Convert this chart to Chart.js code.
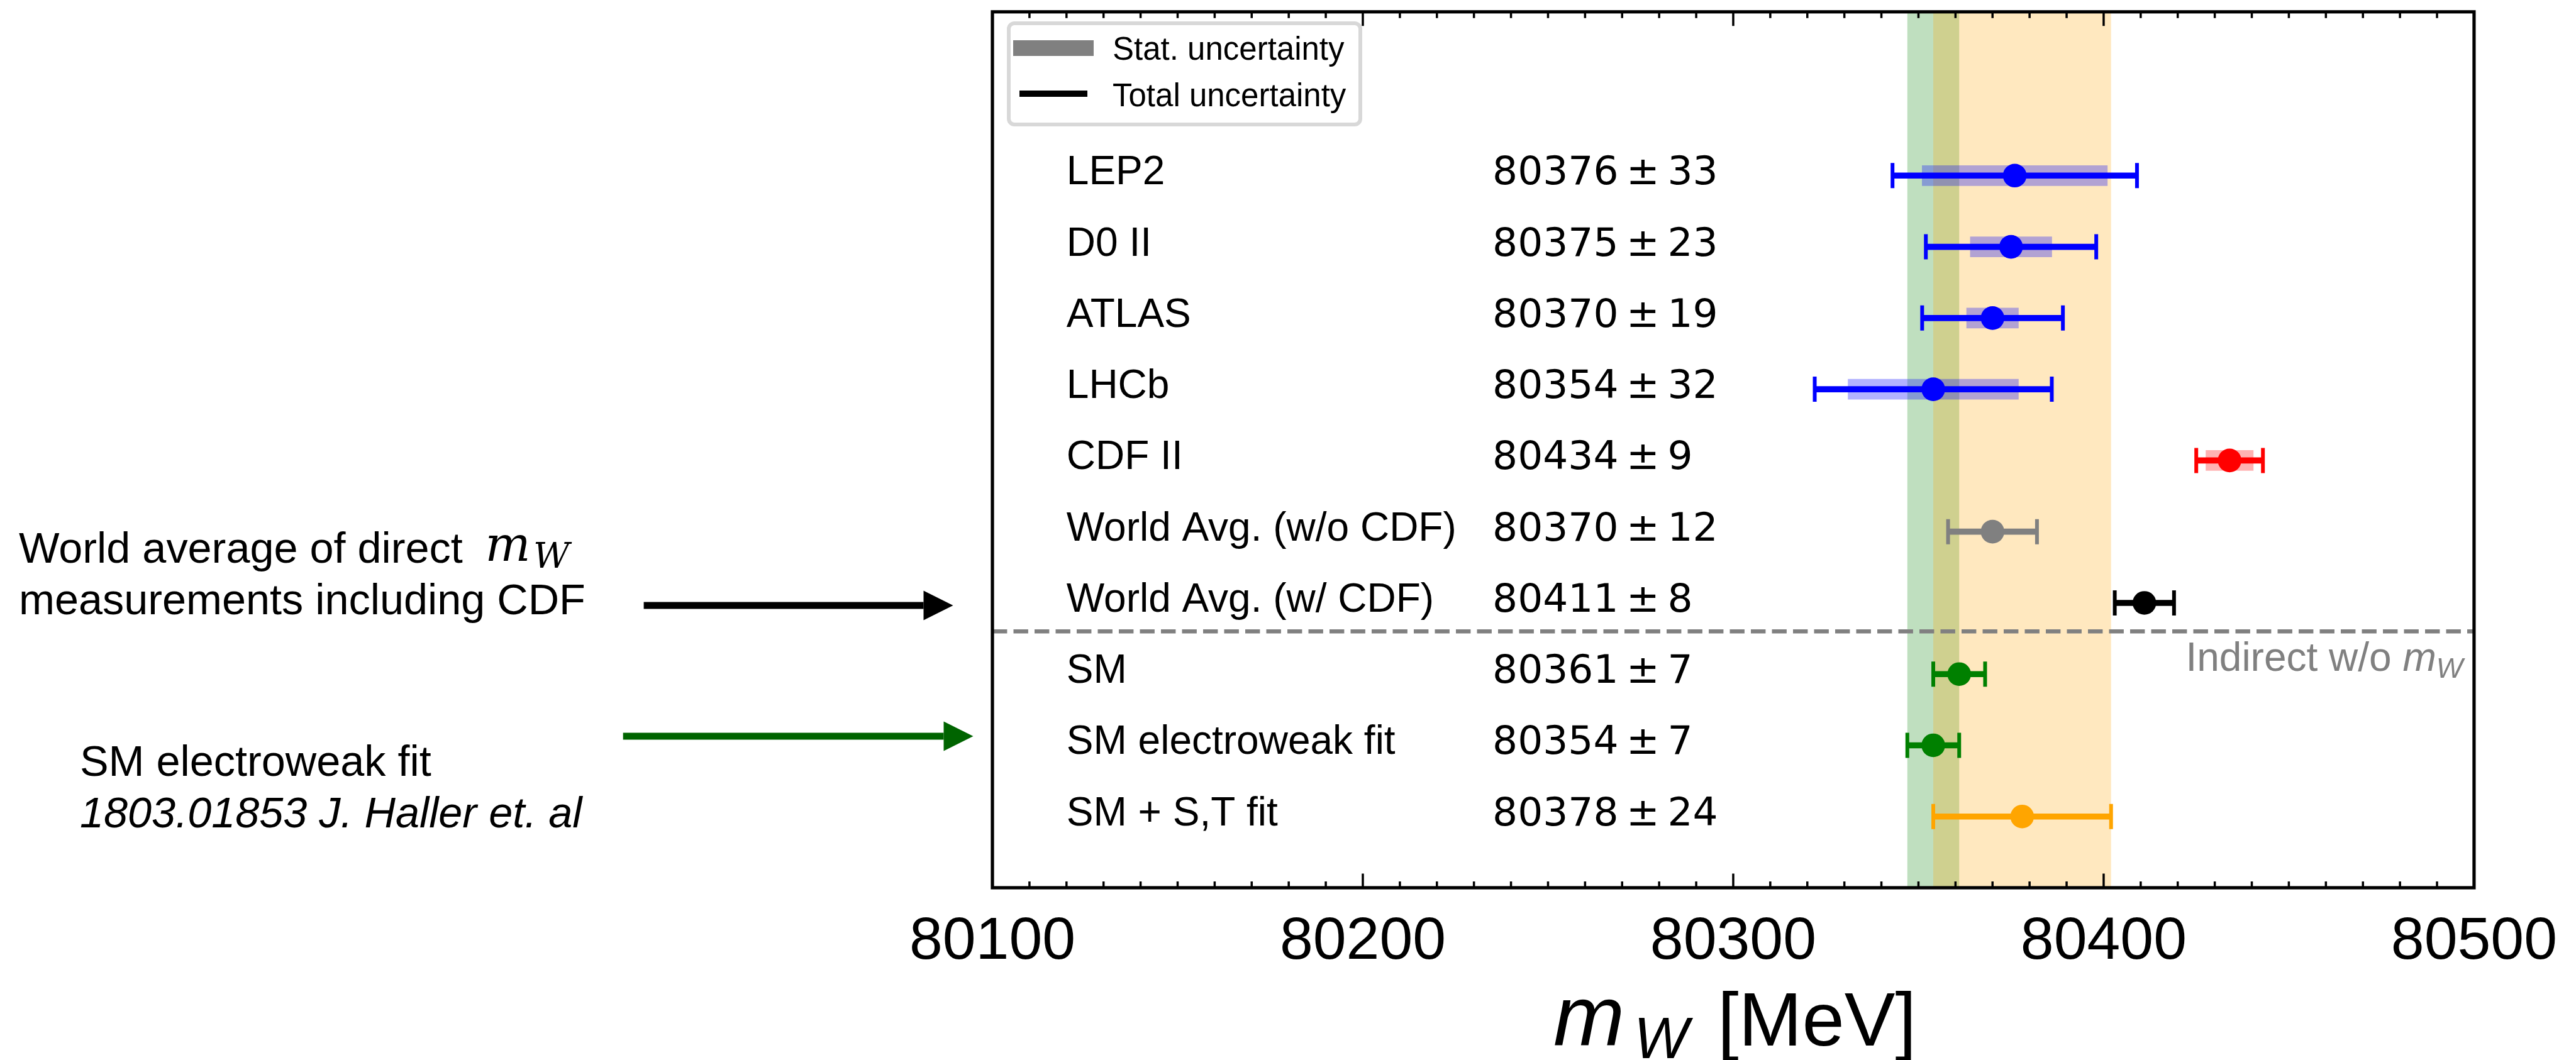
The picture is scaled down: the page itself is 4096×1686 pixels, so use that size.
<!doctype html>
<html lang="en">
<head>
<meta charset="utf-8">
<title>W boson mass summary</title>
<style>
  html,body{margin:0;padding:0;background:#fff}
  #wrap{width:4096px;height:1686px;position:relative}
  canvas{display:block}
</style>
</head>
<body>
<div id="wrap"><canvas id="mw" width="4096" height="1686"></canvas></div>

<script src="https://cdn.jsdelivr.net/npm/chart.js"></script>
<script>
// ---- data (top row first) ----
const rows     = ['LEP2','D0 II','ATLAS','LHCb','CDF II','World Avg. (w/o CDF)','World Avg. (w/ CDF)','SM','SM electroweak fit','SM + S,T fit'];
const rowY     = [10,9,8,7,6,5,4,3,2,1];
const mW       = [80376,80375,80370,80354,80434,80370,80411,80361,80354,80378];
const totErr   = [33,23,19,32,9,12,8,7,7,24];
const statErr  = [25,11,7,23,6.4,null,null,null,null,null];
const rowColor = ['#0000ff','#0000ff','#0000ff','#0000ff','#ff0000','#808080','#000000','#008000','#008000','#ffa500'];

// vertical bands: SM electroweak fit, SM + S,T fit
const bandMid   = [80354,80378];
const bandErr   = [7,24];
const bandColor = ['rgba(0,128,0,0.25)','rgba(255,165,0,0.25)'];

const majorTicks = [80100,80200,80300,80400,80500];
const X_MIN=80100, X_MAX=80500, MINOR=10;
const Y_MAX=12.3, SPLIT_Y=3.6;
const LABEL_X=80120, VALUE_X=80235, INDIRECT_X=80497;

// ---- sizes (reference * 0.866) ----
const SANS='"Liberation Sans"';
const ERR_LW=9.6, CAP_H=40, CAP_W=6, MARK_R=18.8, STAT_H=32;
const FRAME_LW=5.2, TICK_LW=3.5, MAJ_LEN=22.5, MIN_LEN=10;
const AXIS_H=150;

function fade(hex,a){
  const n=parseInt(hex.slice(1),16);
  return `rgba(${n>>16},${(n>>8)&255},${n&255},${a})`;
}

const statIdx = statErr.map((s,i)=>s==null?-1:i).filter(i=>i>=0);

function arrow(ctx,x0,x1,y,color){
  const head=47, half=23.4, lw=11;
  ctx.fillStyle=color;
  ctx.fillRect(x0,y-lw/2,x1-head-x0,lw);
  ctx.beginPath();ctx.moveTo(x1-head,y-half);ctx.lineTo(x1,y);ctx.lineTo(x1-head,y+half);ctx.closePath();ctx.fill();
}

function roundRect(ctx,x,y,w,h,r){
  ctx.beginPath();
  ctx.moveTo(x+r,y);ctx.lineTo(x+w-r,y);ctx.arcTo(x+w,y,x+w,y+r,r);
  ctx.lineTo(x+w,y+h-r);ctx.arcTo(x+w,y+h,x+w-r,y+h,r);
  ctx.lineTo(x+r,y+h);ctx.arcTo(x,y+h,x,y+h-r,r);
  ctx.lineTo(x,y+r);ctx.arcTo(x,y,x+r,y,r);ctx.closePath();
}

const deco = {
  id:'deco',
  beforeDatasetsDraw(c){
    const {ctx,chartArea:a,scales:{x,y}}=c;
    ctx.save();
    bandMid.forEach((m,i)=>{
      const x0=x.getPixelForValue(m-bandErr[i]), x1=x.getPixelForValue(m+bandErr[i]);
      ctx.fillStyle=bandColor[i];ctx.fillRect(x0,a.top,x1-x0,a.bottom-a.top);
    });
    const ys=y.getPixelForValue(SPLIT_Y);
    ctx.strokeStyle='#808080';ctx.lineWidth=6.3;ctx.setLineDash([23.4,10.1]);
    ctx.beginPath();ctx.moveTo(a.left,ys);ctx.lineTo(a.right,ys);ctx.stroke();
    ctx.restore();
  },
  afterDatasetDraw(c,args){
    if(args.index!==1)return;
    // total uncertainty
    const {ctx,scales:{x,y}}=c;
    ctx.save();
    rows.forEach((_,i)=>{
      const py=y.getPixelForValue(rowY[i]);
      const x0=x.getPixelForValue(mW[i]-totErr[i]), x1=x.getPixelForValue(mW[i]+totErr[i]);
      ctx.strokeStyle=rowColor[i];
      ctx.lineWidth=ERR_LW;ctx.beginPath();ctx.moveTo(x0,py);ctx.lineTo(x1,py);ctx.stroke();
      ctx.lineWidth=CAP_W;ctx.beginPath();
      ctx.moveTo(x0,py-CAP_H/2);ctx.lineTo(x0,py+CAP_H/2);
      ctx.moveTo(x1,py-CAP_H/2);ctx.lineTo(x1,py+CAP_H/2);ctx.stroke();
    });
    ctx.restore();
  },
  afterDatasetsDraw(c){
    const {ctx,chartArea:a,scales:{x,y}}=c;
    ctx.save();
    // ticks, inside, top and bottom
    ctx.strokeStyle='#000';ctx.lineWidth=TICK_LW;ctx.beginPath();
    for(let v=X_MIN+MINOR;v<X_MAX;v+=MINOR){
      const px=x.getPixelForValue(v), len=majorTicks.includes(v)?MAJ_LEN:MIN_LEN;
      ctx.moveTo(px,a.bottom);ctx.lineTo(px,a.bottom-len);
      ctx.moveTo(px,a.top);ctx.lineTo(px,a.top+len);
    }
    ctx.stroke();
    ctx.lineWidth=FRAME_LW;ctx.strokeRect(a.left,a.top,a.right-a.left,a.bottom-a.top);

    // legend
    roundRect(ctx,1604,37,559,161,9);
    ctx.fillStyle='#fff';ctx.fill();
    ctx.strokeStyle='#d8d8d8';ctx.lineWidth=6;ctx.stroke();
    ctx.fillStyle='#808080';ctx.fillRect(1611,64,128,25);
    ctx.strokeStyle='#000';ctx.lineWidth=10;ctx.beginPath();ctx.moveTo(1621,149);ctx.lineTo(1729,149);ctx.stroke();
    ctx.fillStyle='#000';ctx.font=`51px ${SANS}`;ctx.textBaseline='alphabetic';ctx.textAlign='left';
    ctx.fillText('Stat. uncertainty',1769,95);
    ctx.fillText('Total uncertainty',1769,169);

    // row labels and values
    const lx=x.getPixelForValue(LABEL_X), vx=x.getPixelForValue(VALUE_X);
    rows.forEach((r,i)=>{
      const py=y.getPixelForValue(rowY[i])+14;
      ctx.font=`64px ${SANS}`;ctx.fillText(r,lx,py);
      ctx.font='63px "DejaVu Sans"';ctx.fillText(`${mW[i]}\u2009\u00b1\u2009${totErr[i]}`,vx,py);
    });

    // "Indirect w/o m_W"
    const ys=y.getPixelForValue(SPLIT_Y)+63, xr=x.getPixelForValue(INDIRECT_X);
    ctx.fillStyle='#808080';
    ctx.font=`italic 45px ${SANS}`;const wW=ctx.measureText('W').width;
    ctx.font=`italic 64px ${SANS}`;const wm=ctx.measureText('m').width;
    ctx.font=`64px ${SANS}`;const wt=ctx.measureText('Indirect w/o ').width;
    let sx=xr-wW-wm-wt;
    ctx.fillText('Indirect w/o ',sx,ys);sx+=wt;
    ctx.font=`italic 64px ${SANS}`;ctx.fillText('m',sx,ys);sx+=wm;
    ctx.font=`italic 45px ${SANS}`;ctx.fillText('W',sx,ys+11);
    ctx.restore();
  },
  afterDraw(c){
    const {ctx}=c;
    ctx.save();
    ctx.fillStyle='#000';ctx.textAlign='left';ctx.textBaseline='alphabetic';
    // x axis title
    ctx.font=`italic 136px ${SANS}`;ctx.fillText('m',2470,1663);
    ctx.font=`italic 92px ${SANS}`;ctx.fillText('W',2598,1683);
    ctx.font=`121px ${SANS}`;ctx.fillText('[MeV]',2731,1663);

    // left annotations
    ctx.font=`68.4px ${SANS}`;
    ctx.fillText('World average of direct',30,894.6);
    ctx.font='italic 76px "DejaVu Serif"';ctx.fillText('m',771.6,891.5);
    ctx.font='italic 56px "DejaVu Serif"';ctx.fillText('W',848,903);
    ctx.font=`68.4px ${SANS}`;
    ctx.fillText('measurements including CDF',30,977);
    arrow(ctx,1023.6,1515.5,963,'#000');

    ctx.fillText('SM electroweak fit',127,1234);
    ctx.font=`italic 68.4px ${SANS}`;
    ctx.fillText('1803.01853 J. Haller et. al',127,1316);
    arrow(ctx,990.7,1547.5,1171,'#006400');
    ctx.restore();
  }
};

Chart.defaults.font.family='Liberation Sans';
Chart.defaults.color='#000';

new Chart(document.getElementById('mw'),{
  type:'scatter',
  data:{datasets:[
    {
      label:'central',
      data:rows.map((_,i)=>({x:mW[i],y:rowY[i]})),
      pointRadius:MARK_R,pointBorderWidth:0,
      pointBackgroundColor:rowColor,
      order:0
    },
    {
      type:'bar',label:'stat',indexAxis:'y',
      data:statIdx.map(i=>({y:rowY[i],x:[mW[i]-statErr[i],mW[i]+statErr[i]]})),
      backgroundColor:statIdx.map(i=>fade(rowColor[i],0.3)),
      borderWidth:0,barThickness:STAT_H,grouped:false,
      order:1
    }
  ]},
  options:{
    responsive:false,animation:false,devicePixelRatio:1,events:[],
    layout:{padding:{left:1578,right:155,top:11,bottom:1686-1412-AXIS_H}},
    plugins:{legend:{display:false},tooltip:{enabled:false}},
    scales:{
      x:{type:'linear',min:X_MIN,max:X_MAX,offset:false,
        grid:{display:false,drawTicks:false},border:{display:false},
        ticks:{stepSize:100,maxRotation:0,autoSkip:false,padding:30,color:'#000',
          font:{size:95,family:'Liberation Sans'},callback:v=>String(v)},
        afterFit(s){s.height=AXIS_H;}
      },
      y:{type:'linear',min:0,max:Y_MAX,offset:false,display:false}
    }
  },
  plugins:[deco]
});
</script>
</body>
</html>
